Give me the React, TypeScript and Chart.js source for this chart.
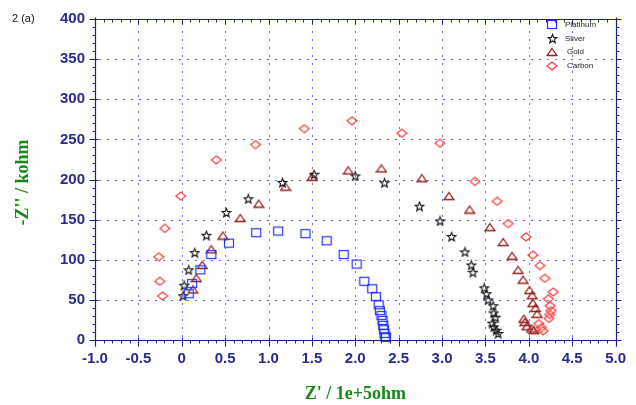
import React, { useEffect, useRef } from 'react';
import { Chart, registerables } from 'chart.js';

Chart.register(...registerables);

// ---- data ----
const platinumX = [0.080, 0.119, 0.214, 0.341, 0.544, 0.858, 1.111, 1.426, 1.670, 1.866, 2.016, 2.104, 2.195, 2.238, 2.269, 2.284, 2.302, 2.314, 2.322, 2.330, 2.337, 2.345, 2.353];
const platinumY = [57.7, 70.3, 87.4, 106.5, 120.7, 133.7, 135.8, 132.5, 123.6, 106.5, 94.7, 73.2, 63.8, 54.1, 43.9, 36.6, 30.5, 24.4, 18.3, 13.0, 8.2, 4.0, 3.3];

const silverX = [0.015, 0.027, 0.080, 0.150, 0.284, 0.514, 0.767, 1.160, 1.525, 2.000, 2.337, 2.740, 2.977, 3.111, 3.264, 3.337, 3.356, 3.486, 3.514, 3.531, 3.589, 3.597, 3.618, 3.578, 3.597, 3.624, 3.647];
const silverY = [55.2, 68.3, 87.4, 108.9, 130.5, 158.9, 176.0, 196.3, 206.5, 204.5, 196.0, 166.7, 148.4, 128.9, 109.8, 93.5, 84.5, 65.0, 57.7, 50.0, 42.7, 33.8, 28.4, 21.1, 16.2, 12.2, 8.2];

const goldX = [0.130, 0.169, 0.237, 0.341, 0.474, 0.675, 0.888, 1.196, 1.502, 1.919, 2.302, 2.767, 3.080, 3.318, 3.552, 3.705, 3.808, 3.877, 3.935, 4.008, 4.039, 4.047, 4.077, 4.096, 3.943, 3.954, 3.980, 4.031, 4.058];
const goldY = [63.0, 77.2, 93.5, 113.0, 130.1, 152.0, 169.9, 191.1, 203.3, 211.3, 213.8, 201.6, 179.3, 162.6, 140.6, 122.0, 104.9, 87.4, 75.2, 62.2, 55.7, 46.0, 39.9, 32.6, 26.5, 22.3, 17.1, 14.3, 12.2];

const carbonX = [-0.222, -0.253, -0.264, -0.196, -0.011, 0.399, 0.850, 1.413, 1.962, 2.537, 2.977, 3.379, 3.635, 3.762, 3.968, 4.047, 4.127, 4.184, 4.280, 4.226, 4.245, 4.256, 4.241, 4.233, 4.115, 4.145, 4.165];
const carbonY = [54.9, 73.2, 103.7, 139.0, 179.3, 224.4, 243.5, 263.4, 273.2, 257.7, 245.1, 197.6, 172.8, 145.1, 128.4, 105.7, 92.7, 76.8, 59.8, 51.2, 42.7, 36.6, 31.7, 26.8, 20.4, 15.5, 11.3];

const seriesNames = ['Platinum', 'Silver', 'Gold', 'Carbon'];
const xMin = -1.0;
const xMax = 5.0;
const xStep = 0.5;
const yMin = 0;
const yMax = 400;
const yStep = 50;
const xTitle = "Z' / 1e+5ohm";
const yTitle = "-Z'' / kohm";
const panelLabel = '2 (a)';

// ---- styles ----
const AXIS = '#1d1d8a';
const TICK_LABEL = '#2a2a92';
const GRID = '#6a6af2';
const GREEN = '#168a16';
const SANS = "'Liberation Sans', Arial, sans-serif";
const SERIF = "'Liberation Serif', 'Times New Roman', serif";

function makeMarker(kind: string): HTMLCanvasElement {
  const c = document.createElement('canvas');
  const g = c.getContext('2d') as CanvasRenderingContext2D;
  if (kind === 'square') {
    c.width = 12; c.height = 11;
    g.strokeStyle = '#2233ff'; g.lineWidth = 1.2;
    g.strokeRect(1.5, 1.5, 9, 8);
  } else if (kind === 'star') {
    c.width = 11; c.height = 11;
    g.strokeStyle = '#111111'; g.lineWidth = 1.1;
    g.beginPath();
    for (let i = 0; i < 10; i++) {
      const r = i % 2 === 0 ? 4.6 : 2.0;
      const a = -Math.PI / 2 + (i * Math.PI) / 5;
      const px = 5.5 + r * Math.cos(a);
      const py = 6 + r * Math.sin(a);
      if (i === 0) g.moveTo(px, py); else g.lineTo(px, py);
    }
    g.closePath(); g.stroke();
  } else if (kind === 'triangle') {
    c.width = 12; c.height = 10;
    g.strokeStyle = '#962020'; g.lineWidth = 1.3;
    g.beginPath(); g.moveTo(6, 1.5); g.lineTo(10.8, 8.5); g.lineTo(1.2, 8.5); g.closePath(); g.stroke();
  } else {
    c.width = 12; c.height = 10;
    g.strokeStyle = '#ff3a3a'; g.lineWidth = 1.2;
    g.beginPath(); g.moveTo(6, 1); g.lineTo(11, 5); g.lineTo(6, 9); g.lineTo(1, 5); g.closePath(); g.stroke();
  }
  return c;
}

const toPts = (xs: number[], ys: number[]) => xs.map((x, i) => ({ x, y: ys[i] }));

export default function App() {
  const ref = useRef<HTMLCanvasElement | null>(null);

  useEffect(() => {
    document.body.style.margin = '0';
    const canvas = ref.current;
    if (!canvas) return;
    const markers = [makeMarker('square'), makeMarker('star'), makeMarker('triangle'), makeMarker('diamond')];
    const seriesData = [toPts(platinumX, platinumY), toPts(silverX, silverY), toPts(goldX, goldY), toPts(carbonX, carbonY)];

    const dottedGrid = {
      id: 'dottedGrid',
      beforeDatasetsDraw(chart: any) {
        const { ctx, chartArea: a, scales } = chart;
        ctx.save();
        ctx.fillStyle = GRID;
        const nx = Math.round((xMax - xMin) / xStep);
        for (let i = 1; i < nx; i++) {
          const p = Math.round(scales.x.getPixelForValue(xMin + i * xStep));
          for (let y = a.top + 4; y < a.bottom - 1; y += 8) ctx.fillRect(p, Math.round(y), 1, 2);
        }
        const ny = Math.round((yMax - yMin) / yStep);
        for (let j = 1; j < ny; j++) {
          const p = Math.round(scales.y.getPixelForValue(yMin + j * yStep));
          for (let x = a.left + 4; x < a.right - 1; x += 8) ctx.fillRect(Math.round(x), p, 2, 1);
        }
        ctx.restore();
      },
    };

    const decor = {
      id: 'decor',
      afterDraw(chart: any) {
        const { ctx, chartArea: a, scales } = chart;
        const xs = scales.x;
        const ys = scales.y;
        const L = Math.round(a.left) + 0.5;
        const R = Math.round(a.right) + 0.5;
        const T = Math.round(a.top) + 0.5;
        const B = Math.round(a.bottom) + 0.5;
        ctx.save();
        ctx.strokeStyle = AXIS;
        ctx.lineWidth = 1.2;
        ctx.beginPath();
        ctx.moveTo(L - 3, T); ctx.lineTo(R + 4, T);
        ctx.moveTo(L - 3, B); ctx.lineTo(R + 4, B);
        ctx.moveTo(L, T - 2); ctx.lineTo(L, B + 6);
        ctx.moveTo(R, T - 2); ctx.lineTo(R, B + 6);
        ctx.stroke();
        ctx.lineWidth = 1;
        ctx.beginPath();
        const nx = Math.round((xMax - xMin) / 0.1);
        for (let i = 0; i <= nx; i++) {
          const v = xMin + i * 0.1;
          const p = Math.round(xs.getPixelForValue(v)) + 0.5;
          const major = i % 5 === 0;
          ctx.moveTo(p, B - (major ? 3 : 0)); ctx.lineTo(p, B + (major ? 6 : 3));
          ctx.moveTo(p, T); ctx.lineTo(p, T + (major ? 5 : 3));
        }
        const ny = Math.round((yMax - yMin) / 10);
        for (let j = 0; j <= ny; j++) {
          const v = yMin + j * 10;
          const p = Math.round(ys.getPixelForValue(v)) + 0.5;
          const major = j % 5 === 0;
          ctx.moveTo(L - (major ? 6 : 3), p); ctx.lineTo(L + (major ? 3 : 0), p);
          ctx.moveTo(R, p); ctx.lineTo(R + (major ? 5 : 3), p);
        }
        ctx.stroke();

        // axis titles
        ctx.fillStyle = GREEN;
        ctx.font = `bold 18px ${SERIF}`;
        ctx.textAlign = 'center';
        ctx.textBaseline = 'alphabetic';
        ctx.fillText(xTitle, (a.left + a.right) / 2, 399);
        ctx.save();
        ctx.translate(28, (a.top + a.bottom) / 2 + 3);
        ctx.rotate(-Math.PI / 2);
        ctx.fillText(yTitle, 0, 0);
        ctx.restore();

        // panel label
        ctx.fillStyle = '#111111';
        ctx.font = `11px ${SANS}`;
        ctx.textAlign = 'left';
        ctx.fillText(panelLabel, 12, 22);

        // legend
        ctx.font = `8px ${SANS}`;
        ctx.textBaseline = 'middle';
        ctx.fillStyle = '#222222';
        seriesNames.forEach((name, i) => {
          const cy = 24.5 + i * 13.8;
          const m = markers[i];
          ctx.drawImage(m, Math.round(552 - m.width / 2), Math.round(cy - m.height / 2));
          ctx.fillText(name, i < 2 ? 565 : 567, cy);
        });
        ctx.restore();
      },
    };

    const chart = new Chart(canvas, {
      type: 'scatter',
      data: {
        datasets: seriesNames.map((name, i) => ({
          label: name,
          data: seriesData[i],
          pointStyle: markers[i] as any,
          pointRadius: 5,
          showLine: false,
          clip: false as any,
        })),
      },
      options: {
        animation: false,
        responsive: false,
        devicePixelRatio: 1,
        layout: { padding: { left: 0, top: 12, right: 19, bottom: 0 } },
        plugins: { legend: { display: false }, tooltip: { enabled: false } },
        scales: {
          x: {
            type: 'linear',
            min: xMin,
            max: xMax,
            afterFit: (s: any) => { s.height = 65; },
            afterBuildTicks: (s: any) => {
              const t = [];
              const n = Math.round((xMax - xMin) / xStep);
              for (let i = 0; i <= n; i++) t.push({ value: xMin + i * xStep });
              s.ticks = t;
            },
            ticks: {
              autoSkip: false,
              maxRotation: 0,
              padding: 10,
              color: TICK_LABEL,
              font: { family: SANS, size: 15, weight: 'bold' },
              callback: (v: any) => (Math.abs(v) < 1e-9 ? '0' : Number(v).toFixed(1)),
            },
            grid: { display: false, drawTicks: false },
            border: { display: false },
          },
          y: {
            type: 'linear',
            min: yMin,
            max: yMax,
            afterFit: (s: any) => { s.width = 95; },
            ticks: {
              stepSize: yStep,
              padding: 10,
              color: TICK_LABEL,
              font: { family: SANS, size: 15, weight: 'bold' },
            },
            grid: { display: false, drawTicks: false },
            border: { display: false },
          },
        },
      },
      plugins: [dottedGrid, decor],
    } as any);
    return () => chart.destroy();
  }, []);

  return (
    <div style={{ width: 636, height: 405, background: '#ffffff' }}>
      <canvas ref={ref} width={636} height={405} style={{ display: 'block' }} />
    </div>
  );
}
